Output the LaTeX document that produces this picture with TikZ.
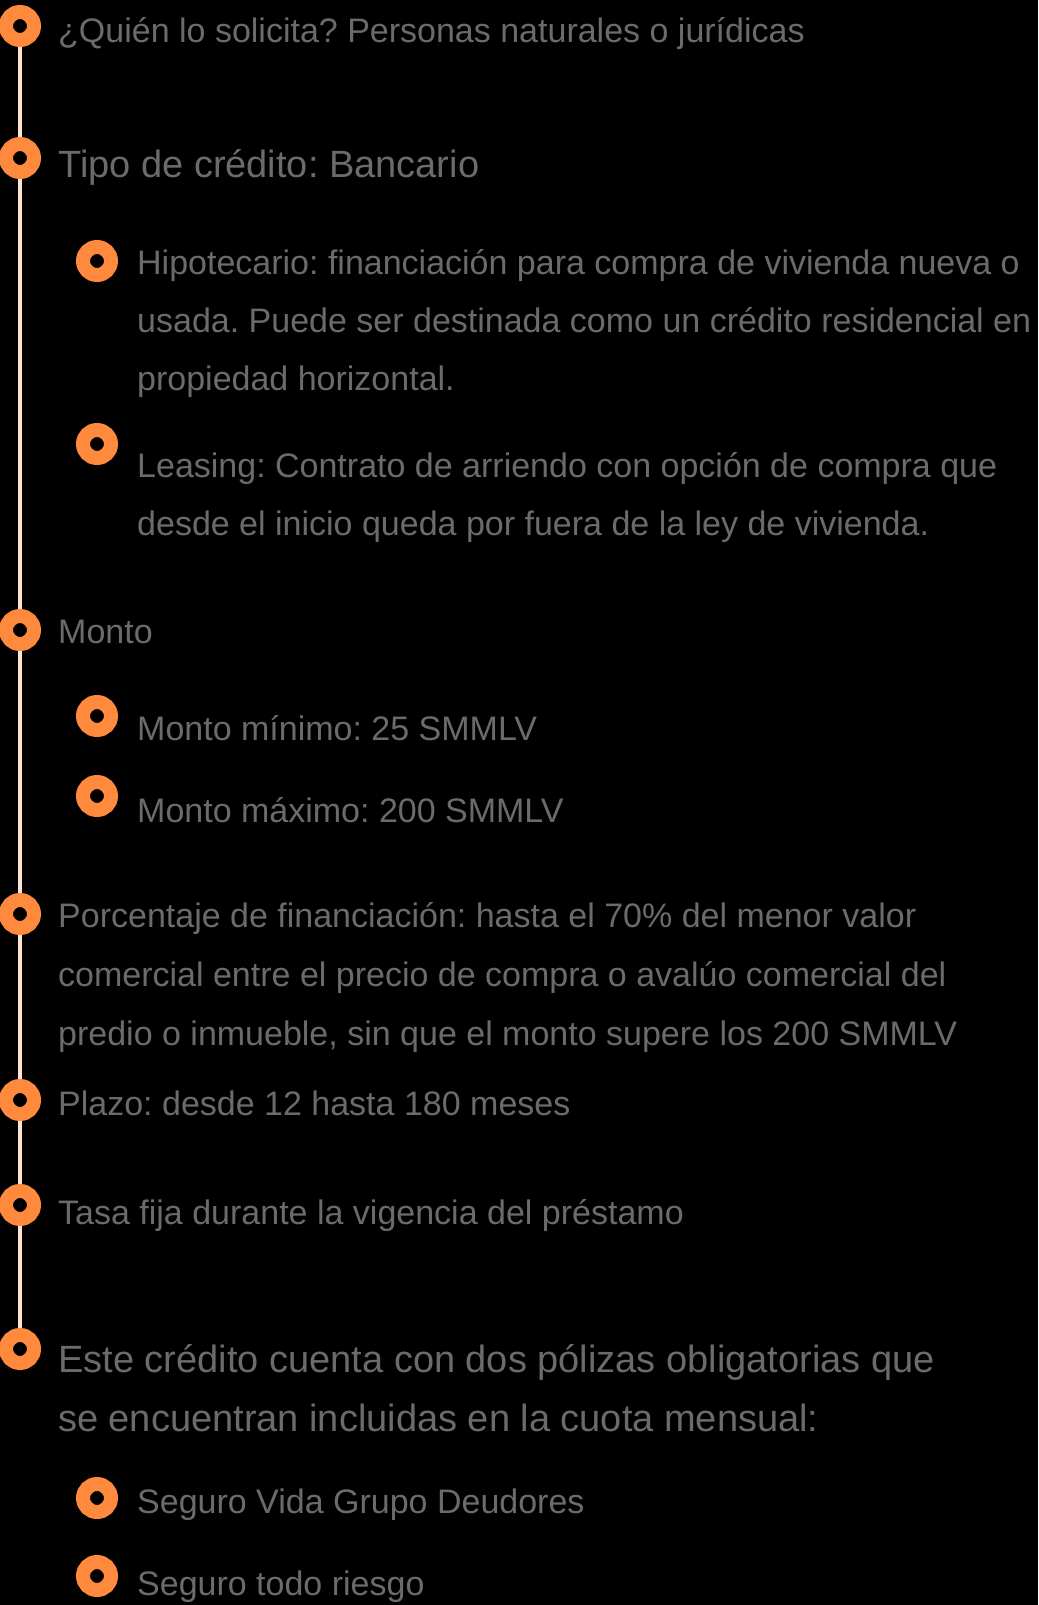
\documentclass[tikz,border=0pt]{standalone}
\usepackage{fontspec}
\setmainfont{Liberation Sans}
\usepackage{tikz}
\usetikzlibrary{positioning}
\definecolor{ringorange}{HTML}{FF8A3D}
\definecolor{spinepeach}{HTML}{FDE4D2}
\definecolor{textgray}{HTML}{6B6B6B}
\frenchspacing

\begin{document}
\begin{tikzpicture}[x=1pt,y=-1pt,
  dot/.style={circle,draw=ringorange,fill=black,line width=14pt,minimum size=28pt,inner sep=0pt},
  spine/.style={draw=spinepeach,line width=4pt},
  txt/.style={anchor=base west,inner sep=0pt,text=textgray,font=\fontsize{34}{40}\selectfont},
  big/.style={txt,font=\fontsize{38}{44}\selectfont}]
\fill[black] (0,0) rectangle (1038,1605);
\useasboundingbox (0,0) rectangle (1038,1605);

% main steps
\node[dot] (quien) at (20,26) {};
\node[dot] (tipo) at (20,158) {};
\node[dot] (monto) at (20,630) {};
\node[dot] (porc) at (20,914) {};
\node[dot] (plazo) at (20,1100) {};
\node[dot] (tasa) at (20,1205) {};
\node[dot] (polizas) at (20,1349) {};
\draw[spine] (quien) -- (tipo) -- (monto) -- (porc) -- (plazo) -- (tasa) -- (polizas);

% sub steps
\node[dot] (hipo) at (97,261) {};
\node[dot] (leasing) at (97,444) {};
\node[dot] (mmin) at (97,716) {};
\node[dot] (mmax) at (97,796) {};
\node[dot] (vida) at (97,1498) {};
\node[dot] (riesgo) at (97,1576) {};

% texts
\node[txt] (quien-t) at (58,43) {¿Quién lo solicita? Personas naturales o jurídicas};
\node[big] (tipo-t) at (58,178) {Tipo de crédito: Bancario};
\node[txt] (hipo-t1) at (137,274) {Hipotecario: financiación para compra de vivienda nueva o};
\node[txt] (hipo-t2) at (137,332) {usada. Puede ser destinada como un crédito residencial en};
\node[txt] (hipo-t3) at (137,390) {propiedad horizontal.};
\node[txt] (leasing-t1) at (137,477) {Leasing: Contrato de arriendo con opción de compra que};
\node[txt] (leasing-t2) at (137,535) {desde el inicio queda por fuera de la ley de vivienda.};
\node[txt] (monto-t) at (58,643) {Monto};
\node[txt] (mmin-t) at (137,740) {Monto mínimo: 25 SMMLV};
\node[txt] (mmax-t) at (137,822) {Monto máximo: 200 SMMLV};
\node[txt] (porc-t1) at (58,927) {Porcentaje de financiación: hasta el 70\% del menor valor};
\node[txt] (porc-t2) at (58,986) {comercial entre el precio de compra o avalúo comercial del};
\node[txt] (porc-t3) at (58,1045) {predio o inmueble, sin que el monto supere los 200 SMMLV};
\node[txt] (plazo-t) at (58,1115) {Plazo: desde 12 hasta 180 meses};
\node[txt] (tasa-t) at (58,1224) {Tasa fija durante la vigencia del préstamo};
\node[big] (polizas-t1) at (58,1372) {Este crédito cuenta con dos pólizas obligatorias que};
\node[big] (polizas-t2) at (58,1431) {se encuentran incluidas en la cuota mensual:};
\node[txt] (vida-t) at (137,1513) {Seguro Vida Grupo Deudores};
\node[txt] (riesgo-t) at (137,1595) {Seguro todo riesgo};
\end{tikzpicture}
\end{document}
